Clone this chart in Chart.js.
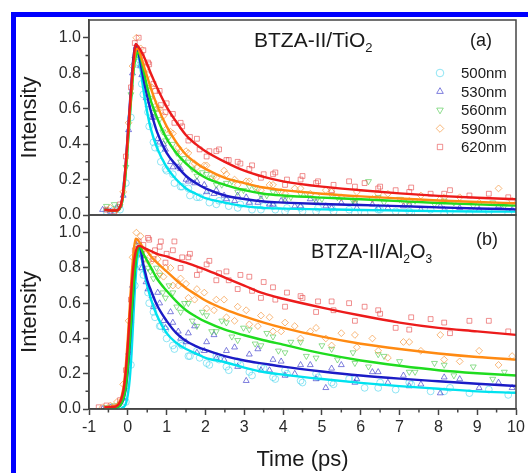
<!DOCTYPE html>
<html>
<head>
<meta charset="utf-8">
<script src="https://cdn.jsdelivr.net/npm/chart.js@4.4.1/dist/chart.umd.min.js"></script>
<style>
  html, body { margin: 0; padding: 0; background: #fff; width: 528px; height: 473px; overflow: hidden; }
  #frame { position: absolute; left: 11px; top: 12px; width: 700px; height: 700px;
           border-left: 5px solid #0000ff; border-top: 5px solid #0000ff; }
  canvas { position: absolute; left: 0; top: 0; }
</style>
</head>
<body>
<div id="frame"></div>
<canvas id="chartTiO2" width="528" height="473"></canvas>
<canvas id="chartAl2O3" width="528" height="473"></canvas>
<script>
// ---- series ----
const wavelengths = ['500nm', '530nm', '560nm', '590nm', '620nm'];

// ---- axis ticks ----
const xTicks = [-1, 0, 1, 2, 3, 4, 5, 6, 7, 8, 9, 10];
const xMinorTicks = [-0.5, 0.5, 1.5, 2.5, 3.5, 4.5, 5.5, 6.5, 7.5, 8.5, 9.5];
const yTicks = [0, 0.2, 0.4, 0.6, 0.8, 1.0];
const yMinorTicks = [0.1, 0.3, 0.5, 0.7, 0.9];

// ---- fitted decay curves (time in ps) ----
const fitTimes = [-0.6, -0.4, -0.3, -0.2, -0.15, -0.1, -0.05, 0, 0.05, 0.1, 0.15, 0.2, 0.25, 0.3, 0.4, 0.5, 0.6, 0.75, 1, 1.25, 1.5, 1.75, 2, 2.5, 3, 3.5, 4, 5, 6, 7, 8, 9, 10];

// BTZA-II/TiO2
const fitTiO2_500 = [0.03, 0.025, 0.025, 0.04, 0.07, 0.14, 0.25, 0.4, 0.56, 0.71, 0.84, 0.92, 0.925, 0.87, 0.71, 0.58, 0.48, 0.38, 0.27, 0.2, 0.15, 0.12, 0.095, 0.07, 0.05, 0.04, 0.036, 0.032, 0.028, 0.025, 0.022, 0.02, 0.019];
const fitTiO2_530 = [0.03, 0.025, 0.025, 0.045, 0.085, 0.17, 0.3, 0.46, 0.62, 0.77, 0.9, 0.96, 0.93, 0.89, 0.77, 0.67, 0.58, 0.47, 0.35, 0.28, 0.22, 0.18, 0.15, 0.11, 0.09, 0.076, 0.07, 0.062, 0.056, 0.05, 0.043, 0.037, 0.032];
const fitTiO2_560 = [0.03, 0.025, 0.025, 0.04, 0.07, 0.14, 0.25, 0.4, 0.55, 0.7, 0.82, 0.89, 0.915, 0.91, 0.82, 0.72, 0.64, 0.55, 0.43, 0.35, 0.29, 0.245, 0.21, 0.17, 0.14, 0.12, 0.11, 0.098, 0.089, 0.078, 0.068, 0.06, 0.053];
const fitTiO2_590 = [0.03, 0.025, 0.025, 0.045, 0.08, 0.16, 0.28, 0.43, 0.58, 0.73, 0.85, 0.925, 0.94, 0.92, 0.85, 0.78, 0.71, 0.62, 0.5, 0.41, 0.34, 0.295, 0.26, 0.21, 0.18, 0.155, 0.14, 0.12, 0.105, 0.093, 0.082, 0.073, 0.066];
const fitTiO2_620 = [0.03, 0.025, 0.025, 0.045, 0.085, 0.17, 0.3, 0.45, 0.6, 0.75, 0.88, 0.965, 0.955, 0.94, 0.9, 0.85, 0.795, 0.72, 0.61, 0.525, 0.45, 0.4, 0.36, 0.3, 0.25, 0.215, 0.19, 0.16, 0.14, 0.122, 0.108, 0.097, 0.089];

// BTZA-II/Al2O3
const fitAl2O3_500 = [0, 0, 0, 0, 0.005, 0.012, 0.03, 0.08, 0.17, 0.33, 0.55, 0.74, 0.86, 0.905, 0.8, 0.7, 0.62, 0.53, 0.43, 0.375, 0.34, 0.315, 0.29, 0.265, 0.235, 0.21, 0.195, 0.17, 0.148, 0.13, 0.115, 0.1, 0.092];
const fitAl2O3_530 = [0, 0.005, 0.008, 0.02, 0.035, 0.065, 0.12, 0.22, 0.36, 0.53, 0.7, 0.84, 0.91, 0.925, 0.82, 0.73, 0.67, 0.59, 0.5, 0.43, 0.385, 0.357, 0.335, 0.3, 0.275, 0.257, 0.24, 0.213, 0.19, 0.172, 0.157, 0.143, 0.13];
const fitAl2O3_560 = [0, 0.005, 0.008, 0.02, 0.04, 0.07, 0.13, 0.24, 0.38, 0.55, 0.71, 0.83, 0.9, 0.925, 0.88, 0.84, 0.8, 0.74, 0.67, 0.61, 0.56, 0.525, 0.495, 0.45, 0.418, 0.39, 0.365, 0.315, 0.275, 0.245, 0.22, 0.203, 0.19];
const fitAl2O3_590 = [0.01, 0.015, 0.02, 0.045, 0.08, 0.14, 0.25, 0.4, 0.58, 0.76, 0.89, 0.965, 0.96, 0.945, 0.915, 0.895, 0.865, 0.83, 0.78, 0.73, 0.685, 0.65, 0.615, 0.565, 0.525, 0.49, 0.46, 0.41, 0.37, 0.34, 0.315, 0.295, 0.28];
const fitAl2O3_620 = [0.01, 0.012, 0.015, 0.04, 0.07, 0.12, 0.22, 0.36, 0.53, 0.7, 0.82, 0.89, 0.92, 0.925, 0.915, 0.905, 0.895, 0.88, 0.865, 0.845, 0.83, 0.81, 0.79, 0.745, 0.7, 0.655, 0.625, 0.575, 0.53, 0.49, 0.46, 0.44, 0.42];

// ---- measured points ----
const ptTimesA = [-0.75, -0.55, -0.35, -0.2, -0.05, 0.08, 0.18, 0.28, 0.4, 0.55, 0.7, 0.85, 1.0, 1.2, 1.4, 1.6, 1.85, 2.1, 2.35, 2.6, 2.9, 3.2, 3.5, 3.8, 4.1, 4.5, 4.9, 5.3, 5.7, 6.1, 6.5, 6.9, 7.3, 7.8, 8.3, 8.8, 9.3, 9.8];
const ptTimesB = [-0.65, -0.45, -0.28, -0.12, 0.02, 0.12, 0.22, 0.33, 0.47, 0.62, 0.77, 0.92, 1.1, 1.3, 1.5, 1.72, 1.97, 2.22, 2.48, 2.75, 3.05, 3.35, 3.65, 3.95, 4.3, 4.7, 5.1, 5.5, 5.9, 6.3, 6.7, 7.1, 7.55, 8.05, 8.55, 9.05, 9.55, 9.9];
const ptTimesC = [-0.75, -0.55, -0.35, -0.2, -0.05, 0.08, 0.18, 0.28, 0.42, 0.58, 0.74, 0.9, 1.06, 1.26, 1.46, 1.66, 1.92, 2.16, 2.42, 2.68, 2.98, 3.28, 3.58, 3.88, 4.2, 4.6, 5.0, 5.4, 5.8, 6.2, 6.6, 7.0, 7.4, 7.9, 8.4, 8.9, 9.4, 9.7];
const ptTimesD = [0.36, 0.52, 0.66, 0.82, 0.97, 1.16, 1.36, 1.56, 1.78, 2.03, 2.28, 2.54, 2.83, 3.13, 3.43, 3.74, 4.05, 4.45, 4.85, 5.25, 5.85, 6.45, 7.25, 8.15];

const ptTiO2_500 = [null, 0.02, 0.03, 0.03, 0.18, 0.55, 0.85, 0.86, 0.68, 0.50, 0.38, 0.30, 0.25, 0.18, 0.16, 0.11, 0.10, 0.07, 0.08, 0.05, 0.06, 0.03, 0.05, 0.03, 0.04, 0.02, 0.04, 0.02, 0.03, 0.01, 0.03, 0.02, 0.01, 0.03, 0.02, 0.01, 0.02, 0.01];
const ptTiO2_530 = [0.03, 0.02, 0.04, 0.11, 0.48, 0.80, 0.95, 0.84, 0.66, 0.55, 0.43, 0.40, 0.30, 0.27, 0.20, 0.18, 0.17, 0.12, 0.11, 0.08, 0.10, 0.07, 0.06, 0.08, 0.05, 0.09, 0.05, 0.07, 0.04, 0.06, 0.04, 0.05, 0.03, 0.05, 0.04, 0.03, 0.05, 0.03];
const ptTiO2_560 = [null, 0.05, 0.06, 0.05, 0.27, 0.68, 0.88, 0.90, 0.80, 0.66, 0.60, 0.47, 0.44, 0.35, 0.32, 0.26, 0.24, 0.21, 0.17, 0.19, 0.14, 0.15, 0.11, 0.13, 0.10, 0.12, 0.09, 0.10, 0.08, 0.19, 0.07, 0.09, 0.08, 0.06, 0.07, 0.05, 0.07, 0.05];
const ptTiO2_590 = [null, 0.04, 0.03, 0.13, 0.52, 0.84, 1.0, 0.94, 0.83, 0.72, 0.60, 0.56, 0.47, 0.38, 0.36, 0.29, 0.28, 0.22, 0.25, 0.20, 0.19, 0.15, 0.17, 0.13, 0.15, 0.12, 0.14, 0.10, 0.13, 0.09, 0.12, 0.08, 0.11, 0.09, 0.10, 0.07, 0.15, 0.08];
const ptTiO2_620 = [null, 0.03, 0.02, 0.06, 0.33, 0.72, 0.97, 1.0, 0.93, 0.85, 0.70, 0.62, 0.63, 0.52, 0.50, 0.44, 0.37, 0.36, 0.37, 0.31, 0.29, 0.28, 0.23, 0.24, 0.20, 0.22, 0.19, 0.17, 0.19, 0.18, 0.16, 0.14, 0.155, 0.12, 0.14, 0.11, 0.12, 0.10];

const ptTiO2_500b = [0.74, 0.58, 0.41, 0.37, 0.26, 0.23, 0.16, 0.15, 0.10, 0.11, 0.06, 0.08, 0.04, 0.06, 0.03, 0.05, 0.02, 0.04, 0.02, 0.04, 0.01, 0.03, 0.02, 0.01];
const ptTiO2_530b = [0.79, 0.62, 0.55, 0.41, 0.37, 0.27, 0.26, 0.19, 0.19, 0.13, 0.14, 0.09, 0.11, 0.07, 0.09, 0.06, 0.08, 0.05, 0.07, 0.04, 0.07, 0.04, 0.06, 0.03];
const ptTiO2_560b = [0.84, 0.72, 0.58, 0.54, 0.42, 0.40, 0.30, 0.30, 0.22, 0.23, 0.17, 0.18, 0.13, 0.16, 0.11, 0.13, 0.09, 0.12, 0.08, 0.11, 0.07, 0.10, 0.06, 0.08];
const ptTiO2_590b = [0.86, 0.79, 0.64, 0.60, 0.48, 0.46, 0.36, 0.35, 0.27, 0.28, 0.21, 0.23, 0.17, 0.19, 0.14, 0.17, 0.12, 0.15, 0.11, 0.13, 0.09, 0.12, 0.08, 0.10];
const ptTiO2_620b = [0.90, 0.86, 0.74, 0.70, 0.58, 0.57, 0.52, 0.42, 0.43, 0.33, 0.36, 0.31, 0.30, 0.26, 0.21, 0.23, 0.17, 0.20, 0.18, 0.14, 0.16, 0.15, 0.13, 0.12];

const ptAl2O3_500 = [null, null, null, 0.0, 0.04, 0.25, 0.70, 0.88, 0.76, 0.60, 0.52, 0.47, 0.40, 0.34, 0.36, 0.30, 0.29, 0.25, 0.28, 0.22, 0.25, 0.19, 0.23, 0.17, 0.20, 0.15, 0.18, 0.14, 0.17, 0.12, 0.15, 0.11, 0.14, 0.10, 0.12, 0.09, 0.11, 0.08];
const ptAl2O3_530 = [0.0, 0.01, 0.01, 0.06, 0.32, 0.70, 0.93, 0.90, 0.72, 0.64, 0.66, 0.50, 0.55, 0.44, 0.38, 0.47, 0.33, 0.42, 0.28, 0.35, 0.16, 0.34, 0.22, 0.27, 0.20, 0.25, 0.12, 0.25, 0.17, 0.21, 0.15, 0.19, 0.14, 0.09, 0.17, 0.12, 0.15, 0.12];
const ptAl2O3_560 = [null, 0.01, 0.02, 0.03, 0.12, 0.48, 0.80, 0.93, 0.85, 0.78, 0.80, 0.66, 0.70, 0.58, 0.60, 0.50, 0.55, 0.44, 0.50, 0.41, 0.46, 0.37, 0.43, 0.33, 0.38, 0.30, 0.36, 0.28, 0.32, 0.24, 0.30, 0.27, 0.21, 0.26, 0.19, 0.24, 0.17, 0.21];
const ptAl2O3_590 = [0.01, 0.02, 0.04, 0.14, 0.50, 0.86, 1.0, 0.98, 0.88, 0.84, 0.85, 0.75, 0.80, 0.70, 0.71, 0.62, 0.66, 0.56, 0.62, 0.50, 0.56, 0.47, 0.52, 0.44, 0.47, 0.44, 0.40, 0.43, 0.35, 0.40, 0.29, 0.38, 0.33, 0.42, 0.27, 0.33, 0.25, 0.30];
const ptAl2O3_620 = [0.01, 0.02, 0.01, 0.05, 0.22, 0.62, 0.90, 0.95, 0.93, 0.96, 0.90, 0.95, 0.88, 0.95, 0.86, 0.88, 0.79, 0.84, 0.77, 0.73, 0.76, 0.67, 0.72, 0.62, 0.66, 0.63, 0.61, 0.56, 0.60, 0.58, 0.54, 0.46, 0.52, 0.51, 0.43, 0.50, 0.50, 0.44];

const ptAl2O3_500b = [0.80, 0.66, 0.55, 0.47, 0.45, 0.36, 0.37, 0.30, 0.33, 0.26, 0.30, 0.24, 0.27, 0.21, 0.24, 0.18, 0.22, 0.16, 0.20, 0.15, 0.17, 0.12, 0.15, 0.10];
const ptAl2O3_530b = [0.80, 0.68, 0.58, 0.60, 0.46, 0.49, 0.40, 0.43, 0.32, 0.38, 0.29, 0.33, 0.24, 0.31, 0.22, 0.28, 0.19, 0.25, 0.17, 0.23, 0.15, 0.21, 0.13, 0.18];
const ptAl2O3_560b = [0.86, 0.80, 0.74, 0.76, 0.63, 0.66, 0.55, 0.60, 0.47, 0.53, 0.44, 0.49, 0.39, 0.45, 0.36, 0.41, 0.32, 0.38, 0.29, 0.34, 0.26, 0.31, 0.21, 0.25];
const ptAl2O3_590b = [0.90, 0.84, 0.87, 0.77, 0.80, 0.70, 0.74, 0.63, 0.68, 0.57, 0.62, 0.52, 0.58, 0.48, 0.53, 0.44, 0.49, 0.40, 0.46, 0.36, 0.42, 0.33, 0.38, 0.28];
const ptAl2O3_620b = [0.88, 0.97, 0.85, 0.92, 0.83, 0.90, 0.80, 0.86, 0.76, 0.82, 0.73, 0.78, 0.68, 0.75, 0.63, 0.69, 0.58, 0.64, 0.55, 0.61, 0.50, 0.56, 0.45, 0.49];

// ---- styling ----
const FONT = '"Liberation Sans", Arial, Helvetica, sans-serif';
const lineColors = ['#00e2ef', '#1b1bc6', '#1fdc1f', '#ff8a12', '#ec1b1b'];
const markerColors = ['rgba(70,212,236,0.6)', 'rgba(60,60,205,0.65)', 'rgba(70,200,70,0.6)', 'rgba(245,145,50,0.65)', 'rgba(230,70,70,0.6)'];
const markerStyles = ['circle', 'triangle', 'triangle', 'rectRot', 'rect'];
const markerRotations = [0, 0, 180, 0, 0];
const ptTimesBySeries = [ptTimesA, ptTimesB, ptTimesC, ptTimesB, ptTimesA];
const axisColor = '#444';
const textColor = '#1a1a1a';

Chart.defaults.font.family = FONT;
Chart.defaults.color = textColor;

function xy(times, vals) {
  return times.map((t, i) => ({ x: t, y: vals[i] }));
}

function buildDatasets(fits, pts, extra) {
  const ds = [];
  // fitted curves drawn over the measured points; red on top
  for (let i = 4; i >= 0; i--) {
    ds.push({
      type: 'line', label: wavelengths[i] + ' fit', data: xy(fitTimes, fits[i]),
      borderColor: lineColors[i], borderWidth: 2.4, pointRadius: 0, fill: false,
      cubicInterpolationMode: 'monotone', order: 1
    });
  }
  for (let i = 4; i >= 0; i--) {
    ds.push({
      type: 'scatter', label: wavelengths[i],
      data: xy(ptTimesBySeries[i], pts[i]).concat(xy(ptTimesD, extra[i])),
      showLine: false, pointStyle: markerStyles[i], pointRotation: markerRotations[i],
      pointRadius: 3.4, pointBorderWidth: 1, pointBorderColor: markerColors[i],
      pointBackgroundColor: 'rgba(0,0,0,0)', order: 2
    });
  }
  return ds;
}

function yScale() {
  return {
    type: 'linear', min: 0, max: 1.1,
    afterBuildTicks: s => { s.ticks = yTicks.map(v => ({ value: v })); },
    afterFit: s => { s.width = 89; },
    ticks: { font: { size: 16 }, color: '#2a2a2a', padding: 2, callback: v => Number(v).toFixed(1) },
    grid: { drawOnChartArea: false, drawTicks: true, tickLength: 6, tickColor: axisColor, tickWidth: 1.5 },
    border: { display: true, color: axisColor, width: 1.5 },
    title: { display: true, text: 'Intensity', font: { size: 22 }, color: textColor, padding: { top: 17, bottom: 0 } }
  };
}

// frame around each panel plus the short minor ticks
const panelFrame = {
  id: 'panelFrame',
  afterDraw(chart, args, opts) {
    const { ctx, chartArea: a, scales: { x, y } } = chart;
    ctx.save();
    ctx.strokeStyle = axisColor;
    ctx.lineWidth = 1.5;
    ctx.strokeRect(a.left, a.top, a.right - a.left, a.bottom - a.top);
    ctx.beginPath();
    yMinorTicks.forEach(v => {
      const py = y.getPixelForValue(v);
      ctx.moveTo(a.left - 3.5, py); ctx.lineTo(a.left, py);
    });
    if (opts.xMinor) {
      xMinorTicks.forEach(v => {
        const px = x.getPixelForValue(v);
        ctx.moveTo(px, a.bottom); ctx.lineTo(px, a.bottom + 3.5);
      });
    }
    ctx.stroke();
    ctx.restore();
  }
};

function drawFormula(ctx, parts, x, y, size) {
  let cx = x;
  parts.forEach(([s, sub]) => {
    const fs = sub ? Math.round(size * 0.62) : size;
    ctx.font = fs + 'px ' + FONT;
    ctx.fillText(s, cx, sub ? y + size * 0.25 : y);
    cx += ctx.measureText(s).width;
  });
}

// sample label, panel letter and (for the top panel) the wavelength key
const panelText = {
  id: 'panelText',
  afterDraw(chart, args, opts) {
    const ctx = chart.ctx;
    ctx.save();
    ctx.fillStyle = textColor;
    ctx.textBaseline = 'alphabetic';
    ctx.textAlign = 'left';
    drawFormula(ctx, opts.sample, opts.sampleX, opts.sampleY, opts.sampleSize);
    ctx.font = '18px ' + FONT;
    ctx.fillText(opts.letter, opts.letterX, opts.letterY);
    if (opts.key) {
      const rowY = [73, 91.5, 110, 128.5, 147];
      ctx.textBaseline = 'middle';
      ctx.font = '15px ' + FONT;
      wavelengths.forEach((w, i) => {
        ctx.strokeStyle = markerColors[i];
        ctx.fillStyle = 'rgba(0,0,0,0)';
        Chart.helpers.drawPoint(ctx, { pointStyle: markerStyles[i], rotation: markerRotations[i], radius: 3.8, borderWidth: 1 }, 440, rowY[i]);
        ctx.fillStyle = textColor;
        ctx.fillText(w, 461, rowY[i] + 1);
      });
    }
    ctx.restore();
  }
};

const common = {
  responsive: false,
  animation: false,
  events: [],
  plugins: { legend: { display: false }, tooltip: { enabled: false } }
};

new Chart(document.getElementById('chartTiO2'), {
  type: 'scatter',
  data: { datasets: buildDatasets(
    [fitTiO2_500, fitTiO2_530, fitTiO2_560, fitTiO2_590, fitTiO2_620],
    [ptTiO2_500, ptTiO2_530, ptTiO2_560, ptTiO2_590, ptTiO2_620],
    [ptTiO2_500b, ptTiO2_530b, ptTiO2_560b, ptTiO2_590b, ptTiO2_620b]) },
  options: Object.assign({}, common, {
    layout: { autoPadding: false, padding: { left: 0, top: 20, right: 12, bottom: 258 } },
    scales: {
      x: { type: 'linear', min: -1, max: 10, display: false },
      y: yScale()
    },
    plugins: Object.assign({}, common.plugins, {
      panelFrame: { xMinor: false },
      panelText: {
        sample: [['BTZA-II/TiO', false], ['2', true]], sampleX: 254, sampleY: 47, sampleSize: 21,
        letter: '(a)', letterX: 470, letterY: 46, key: true
      }
    })
  }),
  plugins: [panelFrame, panelText]
});

new Chart(document.getElementById('chartAl2O3'), {
  type: 'scatter',
  data: { datasets: buildDatasets(
    [fitAl2O3_500, fitAl2O3_530, fitAl2O3_560, fitAl2O3_590, fitAl2O3_620],
    [ptAl2O3_500, ptAl2O3_530, ptAl2O3_560, ptAl2O3_590, ptAl2O3_620],
    [ptAl2O3_500b, ptAl2O3_530b, ptAl2O3_560b, ptAl2O3_590b, ptAl2O3_620b]) },
  options: Object.assign({}, common, {
    layout: { autoPadding: false, padding: { left: 0, top: 215, right: 12, bottom: 0 } },
    scales: {
      x: {
        type: 'linear', min: -1, max: 10,
        afterBuildTicks: s => { s.ticks = xTicks.map(v => ({ value: v })); },
        afterFit: s => { s.height = 64; },
        ticks: { font: { size: 16 }, color: '#2a2a2a', padding: 3, maxRotation: 0 },
        grid: { drawOnChartArea: false, drawTicks: true, tickLength: 6, tickColor: axisColor, tickWidth: 1.5 },
        border: { display: true, color: axisColor, width: 1.5 },
        title: { display: true, text: 'Time (ps)', font: { size: 22 }, color: textColor, padding: { top: 0, bottom: 0 } }
      },
      y: yScale()
    },
    plugins: Object.assign({}, common.plugins, {
      panelFrame: { xMinor: true },
      panelText: {
        sample: [['BTZA-II/Al', false], ['2', true], ['O', false], ['3', true]], sampleX: 311, sampleY: 258, sampleSize: 20,
        letter: '(b)', letterX: 476, letterY: 245, key: false
      }
    })
  }),
  plugins: [panelFrame, panelText]
});
</script>
</body>
</html>
